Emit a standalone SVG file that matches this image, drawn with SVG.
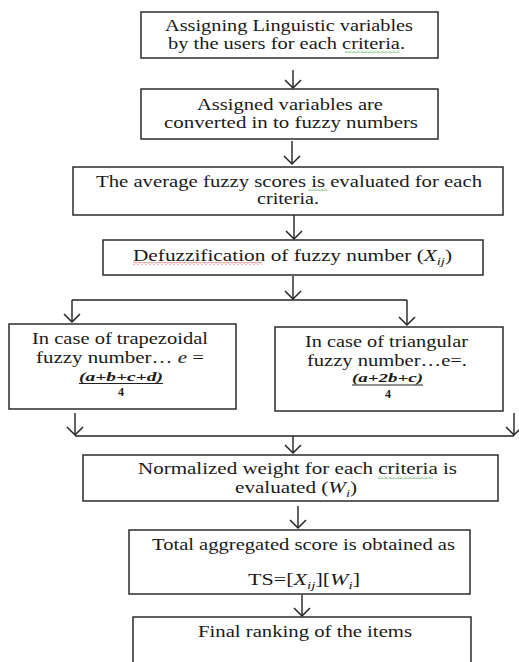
<svg xmlns="http://www.w3.org/2000/svg" width="519" height="662" viewBox="0 0 519 662">
<style>
.box{fill:#fff;stroke:#2b2b2b;stroke-width:1.5}
.t{font-family:'Liberation Serif','DejaVu Serif',serif;font-size:16px;fill:#1a1a1a}
.f{font-family:'Liberation Serif','DejaVu Serif',serif;font-size:12px;fill:#1a1a1a;font-style:italic;font-weight:bold}
.n{font-family:'Liberation Serif','DejaVu Serif',serif;font-size:12px;fill:#1a1a1a;font-weight:bold}
.c{fill:none;stroke:#222;stroke-width:1.4}
.a{marker-end:url(#v)}
</style>
<defs>
<marker id="v" viewBox="0 0 12 20" refX="10" refY="10" markerWidth="12" markerHeight="20" markerUnits="userSpaceOnUse" orient="auto">
<path d="M2,2 L10,10 L2,18" fill="none" stroke="#222" stroke-width="1.5"/>
</marker>
<pattern id="wr" width="4" height="3" patternUnits="userSpaceOnUse"><path d="M0,2.5 L2,0.5 L4,2.5" fill="none" stroke="#e03030" stroke-width="0.8"/></pattern>
<pattern id="wg" width="4" height="3" patternUnits="userSpaceOnUse"><path d="M0,2.5 L2,0.5 L4,2.5" fill="none" stroke="#3aa03a" stroke-width="0.8"/></pattern>
</defs>

<g id="connectors">
<path class="c a" d="M293,70 V88"/>
<path class="c a" d="M292,141 V164"/>
<path class="c a" d="M294,215 V239"/>
<path class="c a" d="M293,276 V299"/>
<path class="c" d="M72,300 H407"/>
<path class="c a" d="M72,300 V322"/>
<path class="c a" d="M407,300 V325"/>
<path class="c a" d="M75,413 V435"/>
<path class="c a" d="M514,413 V435"/>
<path class="c" d="M75,436 H514"/>
<path class="c a" d="M293,436 V453"/>
<path class="c a" d="M298,506 V528"/>
<path class="c a" d="M302,595 V616"/>
</g>

<g id="n1">
<rect class="box" x="141" y="12" width="297" height="46"/>
<text class="t" x="165" y="31" textLength="248" lengthAdjust="spacingAndGlyphs">Assigning Linguistic variables</text>
<text class="t" x="168" y="49" textLength="237" lengthAdjust="spacingAndGlyphs">by the users for each criteria.</text>
<rect x="345" y="50" width="55" height="3" fill="url(#wg)"/>
</g>

<g id="n2">
<rect class="box" x="141" y="89" width="297" height="50"/>
<text class="t" x="197" y="110" textLength="186" lengthAdjust="spacingAndGlyphs">Assigned variables are</text>
<text class="t" x="164" y="128" textLength="254" lengthAdjust="spacingAndGlyphs">converted in to fuzzy numbers</text>
</g>

<g id="n3">
<rect class="box" x="73" y="167" width="430" height="48"/>
<text class="t" x="96" y="187" textLength="386" lengthAdjust="spacingAndGlyphs">The average fuzzy scores is evaluated  for each</text>
<text class="t" x="257" y="204" textLength="62" lengthAdjust="spacingAndGlyphs">criteria.</text>
<rect x="308" y="188" width="19" height="3" fill="url(#wg)"/>
</g>

<g id="n4">
<rect class="box" x="103" y="240" width="380" height="35"/>
<text class="t" x="133" y="261" textLength="319" lengthAdjust="spacingAndGlyphs">Defuzzification of fuzzy number (<tspan font-style="italic">X</tspan><tspan font-style="italic" font-size="11" dy="4">ij</tspan><tspan dy="-4">)</tspan></text>
<rect x="133" y="262" width="129" height="3" fill="url(#wr)"/>
</g>

<g id="n5">
<rect class="box" x="9" y="324" width="227" height="85"/>
<text class="t" x="32" y="344" textLength="176" lengthAdjust="spacingAndGlyphs">In case of trapezoidal</text>
<text class="t" x="36" y="363" textLength="168" lengthAdjust="spacingAndGlyphs">fuzzy number… <tspan font-style="italic">e</tspan> =</text>
<text class="f" x="79" y="381" textLength="84" lengthAdjust="spacingAndGlyphs">(a+b+c+d)</text>
<line x1="79" y1="383.5" x2="163" y2="383.5" stroke="#222" stroke-width="1.2"/>
<text class="n" x="121" y="396" text-anchor="middle">4</text>
</g>

<g id="n6">
<rect class="box" x="275" y="327" width="228" height="84"/>
<text class="t" x="305" y="347" textLength="163" lengthAdjust="spacingAndGlyphs">In case of triangular</text>
<text class="t" x="307" y="366" textLength="160" lengthAdjust="spacingAndGlyphs">fuzzy number…e=.</text>
<text class="f" x="352" y="382" textLength="71" lengthAdjust="spacingAndGlyphs">(a+2b+c)</text>
<line x1="352" y1="385" x2="423" y2="385" stroke="#222" stroke-width="1.2"/>
<text class="n" x="388" y="398" text-anchor="middle">4</text>
</g>

<g id="n7">
<rect class="box" x="83" y="455" width="415" height="46"/>
<text class="t" x="138" y="474" textLength="319" lengthAdjust="spacingAndGlyphs">Normalized  weight for each criteria is</text>
<text class="t" x="235" y="493" textLength="122" lengthAdjust="spacingAndGlyphs">evaluated (<tspan font-style="italic">W</tspan><tspan font-style="italic" font-size="11" dy="4">i</tspan><tspan dy="-4">)</tspan></text>
<rect x="378" y="476" width="55" height="3" fill="url(#wg)"/>
</g>

<g id="n8">
<rect class="box" x="129" y="530" width="341" height="64"/>
<text class="t" x="152" y="550" textLength="303" lengthAdjust="spacingAndGlyphs">Total aggregated  score is obtained as</text>
<text class="t" x="248" y="585" textLength="112" lengthAdjust="spacingAndGlyphs">TS=[<tspan font-style="italic">X</tspan><tspan font-style="italic" font-size="11" dy="4">ij</tspan><tspan dy="-4">][</tspan><tspan font-style="italic">W</tspan><tspan font-style="italic" font-size="11" dy="4">i</tspan><tspan dy="-4">]</tspan></text>
</g>

<g id="n9">
<rect class="box" x="133" y="617" width="338" height="60"/>
<text class="t" x="198" y="637" textLength="214" lengthAdjust="spacingAndGlyphs">Final ranking of the items</text>
</g>
</svg>
